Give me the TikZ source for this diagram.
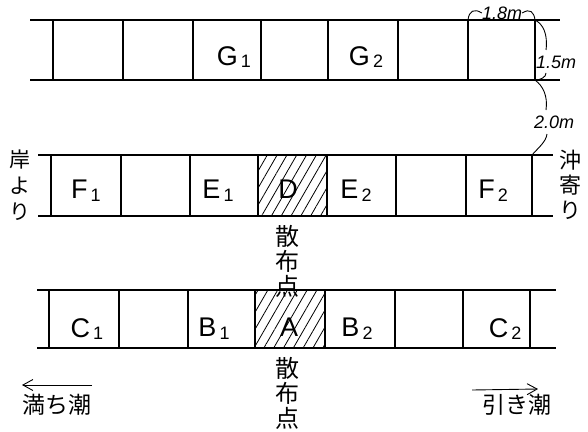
\documentclass[tikz,border=0pt]{standalone}
\usepackage{fontspec}
\setmainfont{Liberation Sans}
\newfontfamily\jp{Noto Sans CJK JP}
\usetikzlibrary{patterns.meta,arrows.meta}
\newcommand{\dg}[1]{\raisebox{-0.2ex}{\fontsize{18}{18}\selectfont\,#1}}
\tikzset{
  grid/.style={line width=1.1pt, black},
  lbl/.style={font=\fontsize{27}{27}\selectfont, inner sep=0pt},
  jpv/.style={align=center, inner sep=0pt},
  jph/.style={font=\jp\fontsize{23}{23}\selectfont, inner sep=0pt},
  dim/.style={font=\itshape\fontsize{18}{18}\selectfont, inner sep=0pt},
  brace/.style={line width=0.9pt},
  hatch/.style={pattern={Lines[angle=60,distance=8.5pt,line width=0.8pt]}},
  flow/.style={line width=0.9pt, -{Straight Barb[length=10pt,width=11pt]}},
}
\begin{document}
\begin{tikzpicture}[x=1pt,y=-1pt]
\useasboundingbox (0,0) rectangle (588,431);
% hatched cells
\fill[hatch] (258,155) rectangle (327,216);
\fill[hatch] (255,290) rectangle (325,348);
% row G
\draw[grid] (30,20) -- (560,20);
\draw[grid] (30,80) -- (560,80);
\foreach \x in {53,123,193,261,328,398,468,535} \draw[grid] (\x,20) -- (\x,80);
% row F/E/D
\draw[grid] (38,155) -- (553,155);
\draw[grid] (38,216) -- (553,216);
\foreach \x in {51,121,190,258,327,396,466,532} \draw[grid] (\x,155) -- (\x,216);
% row C/B/A
\draw[grid] (37,290) -- (556,290);
\draw[grid] (37,348) -- (556,348);
\foreach \x in {49,119,188,255,325,395,463,530} \draw[grid] (\x,290) -- (\x,348);
% cell labels
\node[lbl] (g1) at (234,57) {G\dg{1}};
\node[lbl] (g2) at (366,57) {G\dg{2}};
\node[lbl] (f1) at (86,191) {F\dg{1}};
\node[lbl] (e1) at (218,191) {E\dg{1}};
\node[lbl] (d)  at (288,189) {D};
\node[lbl] (e2) at (356,191) {E\dg{2}};
\node[lbl] (f2) at (493,191) {F\dg{2}};
\node[lbl] (c1) at (87,329) {C\dg{1}};
\node[lbl] (b1) at (214,329) {B\dg{1}};
\node[lbl] (a)  at (289,327) {A};
\node[lbl] (b2) at (357,329) {B\dg{2}};
\node[lbl] (c2) at (505,329) {C\dg{2}};
% vertical japanese
\node[jpv, font=\jp\fontsize{21}{26}\selectfont] (kishi) at (20,185) {岸\\よ\\り};
\node[jpv, font=\jp\fontsize{22}{25}\selectfont] (oki) at (570,185) {沖\\寄\\り};
\node[jpv, font=\jp\fontsize{24}{25}\selectfont] (s1) at (287,261) {散\\布\\点};
\node[jpv, font=\jp\fontsize{24}{25}\selectfont] (s2) at (287,393) {散\\布\\点};
% tide labels and arrows
\node[jph] (mi) at (57,405) {満ち潮};
\node[jph] (hi) at (517,405) {引き潮};
\coordinate (miS) at (92,385);
\coordinate (miE) at (22,385);
\coordinate (hiS) at (472,390);
\coordinate (hiE) at (538,389);
\draw[flow] (miS) -- (miE);
\draw[flow] (hiS) -- (hiE);
% dimensions
\node[dim] (d18) at (502,13) {1.8m};
\node[dim] (d15) at (556,62) {1.5m};
\node[dim] (d20) at (554,122) {2.0m};
\coordinate (gTL) at (468,20);
\coordinate (gTR) at (535,20);
\coordinate (gBR) at (535,80);
\coordinate (fTR) at (532,155);
\draw[brace] (gTL) .. controls (469,11) and (474,8) .. (d18.west);
\draw[brace] (d18.east) .. controls (530,8) and (534,12) .. (gTR);
\draw[brace] (gTR) .. controls (543,24) and (548,34) .. (546,50);
\draw[brace] (546,73) .. controls (546,77) and (541,80) .. (gBR);
\draw[brace] (gBR) .. controls (543,86) and (548,96) .. (546,110);
\draw[brace] (547,134) .. controls (546,142) and (538,148) .. (fTR);
\end{tikzpicture}
\end{document}
